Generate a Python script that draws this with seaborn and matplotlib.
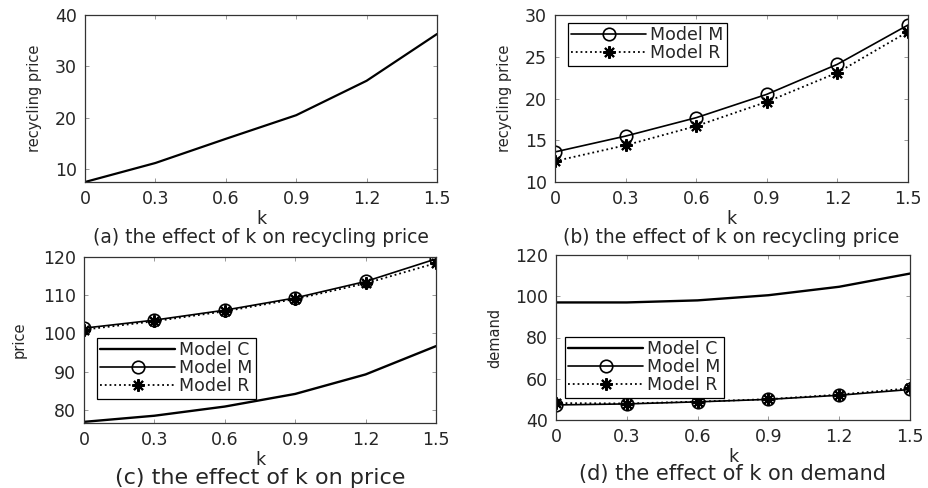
import pandas as pd
import matplotlib.pyplot as plt
import seaborn as sns

sns.set_style('ticks')
plt.rcParams['font.family'] = ['DejaVu Sans']

# values
k = [0, 0.3, 0.6, 0.9, 1.2, 1.5]
xticks = [0, 0.3, 0.6, 0.9, 1.2, 1.5]
xtick_labels = ['0', '0.3', '0.6', '0.9', '1.2', '1.5']

a_price = [7.5, 11.2, 15.9, 20.5, 27.2, 36.3]

b_model_m = [13.6, 15.5, 17.7, 20.5, 24.1, 28.8]
b_model_r = [12.5, 14.4, 16.7, 19.6, 23.1, 28.0]

c_model_c = [76.9, 78.5, 80.9, 84.2, 89.3, 96.7]
c_model_m = [101.4, 103.5, 106.1, 109.3, 113.6, 119.5]
c_model_r = [101.0, 103.2, 105.8, 109.0, 113.1, 118.4]

d_model_c = [97.0, 97.0, 98.0, 100.5, 104.6, 111.0]
d_model_m = [47.3, 47.8, 48.8, 50.0, 52.0, 54.8]
d_model_r = [48.2, 48.0, 48.9, 50.1, 52.3, 55.4]

captions = ['(a) the effect of k on recycling price',
            '(b) the effect of k on recycling price',
            '(c) the effect of k on price',
            '(d) the effect of k on demand']
ylabels = ['recycling price', 'recycling price', 'price', 'demand']

fig = plt.figure(figsize=(9.29, 4.88), dpi=100)
W, H = 929, 488
# axes boxes in pixels: left, top, right, bottom
boxes = [(85, 15, 437, 182), (555, 15, 908, 182),
         (84, 257, 436, 423), (556, 255, 910, 420)]
axes = [fig.add_axes([l / W, 1 - b / H, (r - l) / W, (b - t) / H])
        for (l, t, r, b) in boxes]


def draw_c(ax, vals):
    sns.lineplot(x=k, y=vals, ax=ax, color='black', lw=1.7,
                 label='Model C')


def draw_m(ax, vals):
    sns.lineplot(x=k, y=vals, ax=ax, color='black', lw=1.2,
                 marker='o', markersize=9, markerfacecolor='none',
                 markeredgecolor='black', markeredgewidth=1.2,
                 label='Model M')


def draw_r(ax, vals):
    sns.lineplot(x=k, y=vals, ax=ax, color='black', lw=1.3,
                 linestyle=':', marker=(8, 2, 0), markersize=9,
                 markeredgecolor='black', markeredgewidth=1.5,
                 label='Model R')


ax = axes[0]
sns.lineplot(x=k, y=a_price, ax=ax, color='black', lw=1.6)
ax.set_ylim(7.5, 40)
ax.set_yticks([10, 20, 30, 40])

ax = axes[1]
draw_m(ax, b_model_m)
draw_r(ax, b_model_r)
ax.set_ylim(10, 30)
ax.set_yticks([10, 15, 20, 25, 30])

ax = axes[2]
draw_c(ax, c_model_c)
draw_m(ax, c_model_m)
draw_r(ax, c_model_r)
ax.set_ylim(76.6, 120)
ax.set_yticks([80, 90, 100, 110, 120])

ax = axes[3]
draw_c(ax, d_model_c)
draw_m(ax, d_model_m)
draw_r(ax, d_model_r)
ax.set_ylim(40, 120)
ax.set_yticks([40, 60, 80, 100, 120])

legend_pos = {1: (0.036, 0.952), 2: (0.037, 0.512), 3: (0.025, 0.503)}
ylabel_sizes = [10.5, 10.5, 10.5, 10.5]
ylabel_x = [-0.122, -0.122, -0.162, -0.153]
caption_sizes = [13.5, 13.5, 16, 15]

for i, ax in enumerate(axes):
    ax.set_xlim(0, 1.5)
    ax.set_xticks(xticks)
    ax.set_xticklabels(xtick_labels)
    ax.tick_params(direction='in', top=True, right=True, length=3,
                   width=0.6, color='#888888', labelsize=12.5, pad=6)
    for s in ax.spines.values():
        s.set_color('#333333')
        s.set_linewidth(0.9)
    ax.set_xlabel('k', fontsize=12.5, labelpad=1)
    ax.set_ylabel(ylabels[i], fontsize=ylabel_sizes[i])
    ax.yaxis.set_label_coords(ylabel_x[i], 0.5)
    ax.text(0.5, -0.33, captions[i], transform=ax.transAxes,
            ha='center', va='center', fontsize=caption_sizes[i])
    if i in legend_pos:
        leg = ax.legend(loc='upper left', bbox_to_anchor=legend_pos[i],
                        borderaxespad=0, fancybox=False, framealpha=1,
                        edgecolor='black', fontsize=12.5, handlelength=4.3,
                        handletextpad=0.25, labelspacing=0.0,
                        borderpad=0.2)
        leg.get_frame().set_linewidth(0.9)

fig.savefig('out.png', dpi=100)
